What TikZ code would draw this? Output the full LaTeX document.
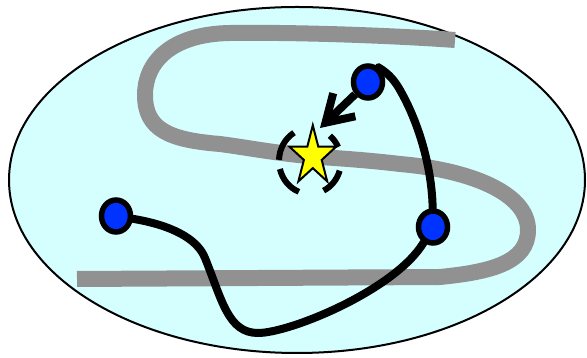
\documentclass[tikz,border=0pt]{standalone}
\usetikzlibrary{shapes.geometric,arrows.meta}
\definecolor{bgcyan}{RGB}{213,255,255}
\definecolor{bandgray}{RGB}{145,145,145}
\definecolor{dotblue}{RGB}{0,51,255}
\definecolor{staryellow}{RGB}{255,255,0}
\pgfdeclarelayer{bglayer}
\pgfdeclarelayer{midlayer}
\pgfsetlayers{bglayer,midlayer,main}
\begin{document}
\begin{tikzpicture}[x=1pt,y=1pt,
  cellshape/.style={draw=black, line width=2pt, fill=bgcyan},
  grayband/.style={draw=bandgray, line width=16pt, line cap=butt},
  trailline/.style={draw=black, line width=8pt, line cap=round, line join=round},
  bluedot/.style={ellipse, draw=black, line width=5.5pt, fill=dotblue, minimum width=29pt, minimum height=32pt, inner sep=0pt},
  ringarc/.style={draw=black, line width=6pt, line cap=butt},
  starshape/.style={draw=black, line width=2pt, fill=staryellow, line join=miter},
  pointerline/.style={draw=black, line width=8pt, -{Straight Barb[length=26pt,width=32pt]}}
]
\useasboundingbox (0,0) rectangle (587,358);

% nodes (on top)
\node[bluedot] (dL) at (116,142) {};
\node[bluedot] (dR) at (433,131) {};
\node[bluedot] (dU) at (368,276) {};
\coordinate (ring) at (310,197);
\coordinate (tipc) at (320,230);

\begin{pgfonlayer}{bglayer}
% cell
\path[cellshape] (297,178) ellipse [x radius=288, y radius=173];
% gray S band
\path[grayband] (455,318) .. controls (400,322) and (300,326) .. (230,325)
  .. controls (170,324) and (145,295) .. (145,263)
  .. controls (145,228) and (170,218) .. (220,214)
  .. controls (250,210) and (280,204) .. (320,201)
  .. controls (350,199) and (375,197) .. (400,194)
  .. controls (470,188) and (528,165) .. (528,128)
  .. controls (528,95) and (490,86) .. (440,81)
  -- (77,79);
\end{pgfonlayer}

\begin{pgfonlayer}{midlayer}
% black trails
\path[trailline] (dL) .. controls (170,133) and (197,120) .. (205,100)
  .. controls (222,58) and (228,25) .. (258,25)
  .. controls (290,25) and (395,68) .. (dR);
\path[trailline] (dR) .. controls (432,188) and (420,233) .. (400,268)
  .. controls (390,286) and (378,290) .. (dU);
% dashed ring
\path[ringarc] ([shift={(25:31 and 33)}]ring) arc[start angle=25, end angle=50, x radius=31, y radius=33];
\path[ringarc] ([shift={(121:31 and 33)}]ring) arc[start angle=121, end angle=178, x radius=31, y radius=33];
\path[ringarc] ([shift={(194:31 and 33)}]ring) arc[start angle=194, end angle=249, x radius=31, y radius=33];
\path[ringarc] ([shift={(296:31 and 33)}]ring) arc[start angle=296, end angle=343, x radius=31, y radius=33];
% star
\begin{scope}[shift={(312.8,201.7)}, xscale=24.5, yscale=31]
\path[starshape] (0,1) -- (-0.2245,0.309) -- (-0.951,0.309) -- (-0.3633,-0.118)
  -- (-0.588,-0.809) -- (0,-0.382) -- (0.588,-0.809) -- (0.3633,-0.118)
  -- (0.951,0.309) -- (0.2245,0.309) -- cycle;
\end{scope}
% arrow
\path[pointerline] (dU) -- (tipc);
\end{pgfonlayer}
\end{tikzpicture}
\end{document}
